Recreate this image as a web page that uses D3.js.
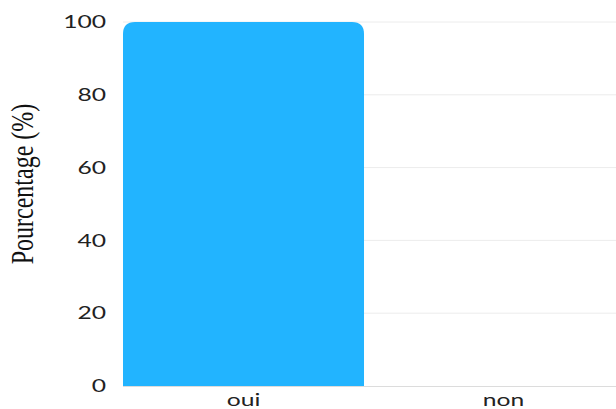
<!DOCTYPE html>
<html><head><meta charset="utf-8">
<script src="https://cdn.jsdelivr.net/npm/d3@7"></script>
<style>html,body{margin:0;padding:0;background:#fff;}</style>
</head><body>
<svg id="c" width="616" height="409"></svg>
<script>
const categories = ["oui", "non"];
const values = [100, 0];
const yTicks = [0, 20, 40, 60, 80, 100];
const yLabel = "Pourcentage (%)";

(function () {
const svg = d3.select("#c");
const W = 616;
const mLeft = 123, mRight = 624, mTop = 22, mBottom = 386;
const SX = 1.45;

const x = d3.scaleBand().domain(categories).range([mLeft, mRight]).paddingInner(0.073).paddingOuter(0);
const y = d3.scaleLinear().domain([0, 100]).range([mBottom, mTop]);

// gridlines
svg.append("g").selectAll("line").data(yTicks.filter(t => t !== 0)).join("line")
  .attr("x1", mLeft).attr("x2", W)
  .attr("y1", d => y(d)).attr("y2", d => y(d))
  .attr("stroke", "#ececec").attr("stroke-width", 1);

// bars
const data = categories.map((c, i) => ({c, v: values[i]}));
svg.append("g").selectAll("path").data(data.filter(d => d.v > 0)).join("path")
  .attr("fill", "#22b4ff")
  .attr("d", d => {
    const x0 = x(d.c), w = x.bandwidth(), y0 = y(0), y1 = y(d.v);
    const r = Math.min(12, y0 - y1, w / 2);
    return `M${x0},${y0}V${y1 + r}Q${x0},${y1} ${x0 + r},${y1}H${x0 + w - r}Q${x0 + w},${y1} ${x0 + w},${y1 + r}V${y0}Z`;
  });

// baseline
svg.append("line").attr("x1", mLeft).attr("x2", W).attr("y1", y(0) + 0.5).attr("y2", y(0) + 0.5)
  .attr("stroke", "#dcdcdc").attr("stroke-width", 1);

// y tick labels
svg.append("g").selectAll("text").data(yTicks).join("text")
  .attr("transform", d => `translate(106,${y(d)}) scale(${SX},1)`)
  .attr("text-anchor", "end").attr("dy", "0.36em")
  .attr("font-family", "Lato").attr("font-size", 17).attr("fill", "#222")
  .text(d => d);

// x labels
svg.append("g").selectAll("text").data(categories).join("text")
  .attr("transform", d => `translate(${x(d) + x.bandwidth() / 2},406) scale(${SX},1)`)
  .attr("text-anchor", "middle")
  .attr("font-family", "Lato").attr("font-size", 17).attr("fill", "#222")
  .text(d => d);

// y axis label
svg.append("text")
  .attr("transform", `translate(33,184) scale(1.35,1) rotate(-90)`)
  .attr("text-anchor", "middle")
  .attr("font-family", "Liberation Serif").attr("font-size", 24).attr("fill", "#111")
  .text(yLabel);
})();
</script>
</body></html>
